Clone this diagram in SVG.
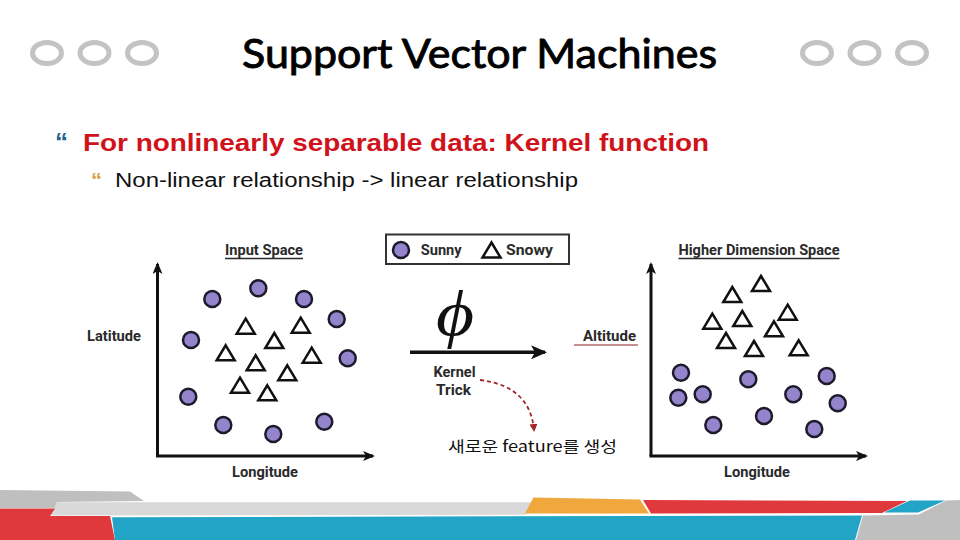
<svg xmlns="http://www.w3.org/2000/svg" xmlns:xlink="http://www.w3.org/1999/xlink" width="960" height="540" viewBox="0 0 960 540">
<defs>
<style>
.ring{fill:none;stroke:#c3c3c3;stroke-width:5}
.title{font-family:Lato,"Open Sans","Liberation Sans",sans-serif;font-size:40px;fill:#000;stroke:#000;stroke-width:0.9}
.b1{font-family:"Liberation Sans",Arial,sans-serif;font-weight:bold;font-size:24px;fill:#d0121b}
.b2{font-family:"Liberation Sans",Arial,sans-serif;font-size:20px;fill:#111}
.lbl{font-family:Roboto,"Liberation Sans",sans-serif;font-weight:bold;font-size:14px;fill:#2a2a2a}
.sunny{fill:#9484cc;stroke:#1d1a2c;stroke-width:2.5}
.snowy{fill:#fff;stroke:#111;stroke-width:2.5;stroke-linejoin:miter}
.axis{stroke:#111;stroke-width:3;fill:none}
.ul{stroke:#2a2a2a;stroke-width:1.3}
</style>
<path id="tri" d="M0,-8 L9,7 L-9,7 Z"/>
<marker id="ah" markerWidth="12" markerHeight="10" refX="10" refY="5" orient="auto" markerUnits="userSpaceOnUse">
<path d="M0,0 L12,5 L0,10 L3,5 Z" fill="#111"/>
</marker>
<marker id="ahBig" markerWidth="16" markerHeight="14" refX="14" refY="7" orient="auto" markerUnits="userSpaceOnUse">
<path d="M0,0 L16,7 L0,14 L4,7 Z" fill="#111"/>
</marker>
<marker id="ahRed" markerWidth="8" markerHeight="8" refX="6" refY="4" orient="auto" markerUnits="userSpaceOnUse">
<path d="M0,0 L8,4 L0,8 Z" fill="#a3262c"/>
</marker>
</defs>
<rect width="960" height="540" fill="#fff"/>

<g id="rings-left">
<ellipse class="ring" cx="47" cy="53" rx="14.5" ry="10.5"/>
<ellipse class="ring" cx="94.5" cy="53" rx="14.5" ry="10.5"/>
<ellipse class="ring" cx="142" cy="53" rx="14.5" ry="10.5"/>
</g>
<g id="rings-right">
<ellipse class="ring" cx="817" cy="53" rx="14.5" ry="10.5"/>
<ellipse class="ring" cx="864.5" cy="53" rx="14.5" ry="10.5"/>
<ellipse class="ring" cx="912" cy="53" rx="14.5" ry="10.5"/>
</g>

<g id="title">
<text class="title" x="242" y="68" textLength="475" lengthAdjust="spacingAndGlyphs">Support Vector Machines</text>
</g>

<g id="bullet-1">
<text x="55" y="151" font-family="'Liberation Sans',sans-serif" font-weight="bold" font-size="26" fill="#1f6391">“</text>
<text class="b1" x="83" y="151" textLength="626" lengthAdjust="spacingAndGlyphs">For nonlinearly separable data: Kernel function</text>
</g>
<g id="bullet-2">
<text x="91" y="188" font-family="'Liberation Sans',sans-serif" font-weight="bold" font-size="22" fill="#d4a04a">“</text>
<text class="b2" x="115" y="187" textLength="463" lengthAdjust="spacingAndGlyphs">Non-linear relationship -&gt; linear relationship</text>
</g>

<g id="input-space">
<text class="lbl" x="264" y="255" text-anchor="middle" textLength="78" lengthAdjust="spacingAndGlyphs">Input Space</text>
<line class="ul" x1="225" y1="258.5" x2="303" y2="258.5"/>
<text class="lbl" x="114" y="341" text-anchor="middle" textLength="54" lengthAdjust="spacingAndGlyphs">Latitude</text>
<text class="lbl" x="265" y="477" text-anchor="middle" textLength="66" lengthAdjust="spacingAndGlyphs">Longitude</text>
<path class="axis" d="M157.5,456 V264" marker-end="url(#ah)"/>
<path class="axis" d="M156,456 H373" marker-end="url(#ah)"/>
<circle class="sunny" cx="212.3" cy="299" r="8"/>
<circle class="sunny" cx="258.3" cy="288.3" r="8"/>
<circle class="sunny" cx="304" cy="299" r="8"/>
<circle class="sunny" cx="336.7" cy="319" r="8"/>
<circle class="sunny" cx="191" cy="340" r="8"/>
<circle class="sunny" cx="347.7" cy="358.3" r="8"/>
<circle class="sunny" cx="188.3" cy="396.7" r="8"/>
<circle class="sunny" cx="223.3" cy="425" r="8"/>
<circle class="sunny" cx="273.3" cy="434" r="8"/>
<circle class="sunny" cx="324.3" cy="421.7" r="8"/>
<use href="#tri" class="snowy" x="245.7" y="326.7"/>
<use href="#tri" class="snowy" x="300.7" y="325.7"/>
<use href="#tri" class="snowy" x="274.3" y="341"/>
<use href="#tri" class="snowy" x="225.7" y="353.3"/>
<use href="#tri" class="snowy" x="255.7" y="363.3"/>
<use href="#tri" class="snowy" x="311.7" y="355.7"/>
<use href="#tri" class="snowy" x="287.3" y="373.3"/>
<use href="#tri" class="snowy" x="240" y="385.7"/>
<use href="#tri" class="snowy" x="267.3" y="393.3"/>
</g>

<g id="legend">
<rect x="386" y="234.5" width="183" height="29.5" fill="#fff" stroke="#333" stroke-width="2"/>
<circle class="sunny" cx="401" cy="250" r="8"/>
<text class="lbl" x="420.7" y="255" textLength="41" lengthAdjust="spacingAndGlyphs">Sunny</text>
<use href="#tri" class="snowy" x="491.5" y="250.5"/>
<text class="lbl" x="506" y="255" textLength="47" lengthAdjust="spacingAndGlyphs">Snowy</text>
</g>

<g id="kernel-trick">
<text x="0" y="0" transform="translate(455,335) scale(1.15,1)" text-anchor="middle" font-family="'Liberation Serif','DejaVu Serif',serif" font-style="italic" font-size="64" fill="#111">ϕ</text>
<text class="lbl" x="454.5" y="376.7" text-anchor="middle" textLength="42" lengthAdjust="spacingAndGlyphs">Kernel</text>
<text class="lbl" x="453.5" y="395" text-anchor="middle" textLength="35" lengthAdjust="spacingAndGlyphs">Trick</text>
</g>

<g id="new-feature">
<text x="448" y="452" font-family="'Noto Sans CJK KR',sans-serif" font-size="15" fill="#111" textLength="169" lengthAdjust="spacingAndGlyphs">새로운 feature를 생성</text>
</g>

<g id="higher-dimension-space">
<text class="lbl" x="759" y="255" text-anchor="middle" textLength="161" lengthAdjust="spacingAndGlyphs">Higher Dimension Space</text>
<line class="ul" x1="678.5" y1="258.5" x2="839.5" y2="258.5"/>
<text class="lbl" x="583" y="341" textLength="53" lengthAdjust="spacingAndGlyphs">Altitude</text>
<line x1="574" y1="345" x2="638" y2="345" stroke="#8b1f24" stroke-width="1"/>
<text class="lbl" x="757" y="477" text-anchor="middle" textLength="66" lengthAdjust="spacingAndGlyphs">Longitude</text>
<path class="axis" d="M651,456 V264" marker-end="url(#ah)"/>
<path class="axis" d="M649.5,456 H866" marker-end="url(#ah)"/>
<use href="#tri" class="snowy" x="732.3" y="295"/>
<use href="#tri" class="snowy" x="761" y="284"/>
<use href="#tri" class="snowy" x="712.3" y="321.7"/>
<use href="#tri" class="snowy" x="742.3" y="319"/>
<use href="#tri" class="snowy" x="787.7" y="312.7"/>
<use href="#tri" class="snowy" x="774" y="329.3"/>
<use href="#tri" class="snowy" x="726" y="341"/>
<use href="#tri" class="snowy" x="754" y="349"/>
<use href="#tri" class="snowy" x="798.7" y="348.3"/>
<circle class="sunny" cx="681" cy="372.7" r="8"/>
<circle class="sunny" cx="748.3" cy="379.3" r="8"/>
<circle class="sunny" cx="826.7" cy="376" r="8"/>
<circle class="sunny" cx="678.3" cy="397.7" r="8"/>
<circle class="sunny" cx="702.7" cy="394.3" r="8"/>
<circle class="sunny" cx="793.3" cy="394.3" r="8"/>
<circle class="sunny" cx="837.7" cy="403.3" r="8"/>
<circle class="sunny" cx="713.3" cy="425" r="8"/>
<circle class="sunny" cx="764" cy="416" r="8"/>
<circle class="sunny" cx="814.3" cy="429" r="8"/>
</g>

<g id="connectors">
<path d="M410,352.3 H545" stroke="#111" stroke-width="3.5" fill="none" marker-end="url(#ahBig)"/>
<path d="M480,380 Q530,386 534,430" stroke="#a3262c" stroke-width="1.8" stroke-dasharray="4,3" fill="none" marker-end="url(#ahRed)"/>
</g>

<g id="footer">
<polygon points="0,490 130,491.5 144,501 57,502 55,508 0,508" fill="#bfbfbf"/>
<polygon points="57,502.3 533,502.3 526,514.8 50,515.5" fill="#d9d9d9"/>
<polygon points="0,508.5 55,508.5 50,516 110,516 115,540 0,540" fill="#e0393d"/>
<polygon points="112,517.3 862,515.5 855,540 115,540" fill="#21a4c6"/>
<polygon points="533.5,497.5 640,499.5 649,513.5 525,513.5" fill="#f0a73d"/>
<polygon points="643,500 907,501 882,513 651,513.5" fill="#e0393d"/>
<polygon points="910,500.5 945,500.5 918,512.5 884,512.5" fill="#21a4c6"/>
<polygon points="946,500.5 960,500 960,540 856,540 863,515.5 919,514.5" fill="#bfbfbf"/>
</g>
</svg>
